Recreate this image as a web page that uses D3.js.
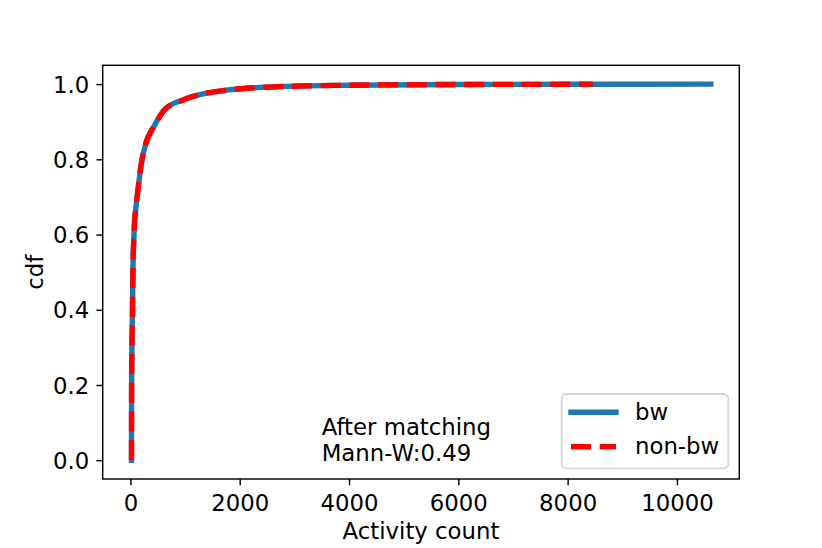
<!DOCTYPE html>
<html>
<head>
<meta charset="utf-8">
<script src="https://cdn.jsdelivr.net/npm/d3@7"></script>
<style>
  body { margin: 0; background: #fff; }
  svg { font-family: "DejaVu Sans", sans-serif; }
</style>
</head>
<body>
<div id="chart"></div>
<script>
// cdf values
var bwX    = [20, 22, 30, 37, 48, 60, 79, 100, 139, 201, 293, 414, 628, 963, 1329, 1757, 2367, 2856, 4000, 6000, 8000, 10620];
var bwY    = [0, 0.2, 0.32, 0.39, 0.52, 0.58, 0.64, 0.67, 0.72, 0.79, 0.847, 0.883, 0.932, 0.958, 0.974, 0.984, 0.991, 0.994, 0.997, 0.999, 0.9995, 1.0];
var nonbwX = [20, 22, 30, 37, 48, 60, 79, 100, 139, 201, 293, 414, 628, 963, 1329, 1757, 2367, 2856, 4000, 6000, 8000, 8460];
var nonbwY = [0, 0.2, 0.32, 0.39, 0.52, 0.58, 0.64, 0.67, 0.72, 0.79, 0.847, 0.883, 0.932, 0.958, 0.974, 0.984, 0.991, 0.994, 0.997, 0.999, 0.9995, 1.0];

var xTicks = [0, 2000, 4000, 6000, 8000, 10000];
var yTicks = [0.0, 0.2, 0.4, 0.6, 0.8, 1.0];
var seriesNames = ["bw", "non-bw"];
var noteLines = ["After matching", "Mann-W:0.49"];
var noteAt = [3500, 0];

var W = 822, H = 548;
var pLeft = 102.7, pRight = 739.3, pTop = 65.3, pBottom = 479;
var fs = 22.8;

var svg = d3.select("#chart")
            .append("svg")
            .attr("width", W)
            .attr("height", H);

var x = d3.scaleLinear().domain([-507, 11141]).range([pLeft, pRight]);
var y = d3.scaleLinear().domain([-0.05, 1.05]).range([pBottom, pTop]);

var line = d3.line()
             .x(function(d){ return x(d[0]); })
             .y(function(d){ return y(d[1]); })
             .curve(d3.curveMonotoneX);

var bw = bwX.map(function(v, i){ return [v, bwY[i]]; });
var nonbw = nonbwX.map(function(v, i){ return [v, nonbwY[i]]; });

svg.append("path")
   .attr("d", line(bw))
   .attr("fill", "none")
   .attr("stroke", "#1f77b4")
   .attr("stroke-width", 5.4)
   .attr("stroke-linecap", "square");

svg.append("path")
   .attr("d", line(nonbw))
   .attr("fill", "none")
   .attr("stroke", "#ff0000")
   .attr("stroke-width", 5.4)
   .attr("stroke-dasharray", "20 8.7");

// axes
var xAxis = svg.append("g")
   .attr("transform", "translate(0," + pBottom + ")")
   .call(d3.axisBottom(x).tickValues(xTicks).tickSize(6.3).tickSizeOuter(0).tickFormat(d3.format("d")));

var yAxis = svg.append("g")
   .attr("transform", "translate(" + pLeft + ",0)")
   .call(d3.axisLeft(y).tickValues(yTicks).tickSize(6.3).tickSizeOuter(0).tickPadding(7.2).tickFormat(d3.format(".1f")));

[xAxis, yAxis].forEach(function(g){
  g.select(".domain").remove();
  g.selectAll(".tick line").attr("stroke", "#000").attr("stroke-width", 1.44);
  g.selectAll(".tick text").attr("fill", "#000").style("font-size", fs + "px").style("font-family", "DejaVu Sans");
});
xAxis.selectAll(".tick text").attr("y", 31.7).attr("dy", 0);
yAxis.selectAll(".tick text").attr("dy", "0.36em");

// frame
svg.append("rect")
   .attr("x", pLeft)
   .attr("y", pTop)
   .attr("width", pRight - pLeft)
   .attr("height", pBottom - pTop)
   .attr("fill", "none")
   .attr("stroke", "#000")
   .attr("stroke-width", 1.44);

svg.append("text")
   .attr("x", (pLeft + pRight) / 2)
   .attr("y", 539)
   .attr("text-anchor", "middle")
   .style("font-size", fs + "px")
   .text("Activity count");

svg.append("text")
   .attr("transform", "translate(43," + ((pTop + pBottom) / 2) + ") rotate(-90)")
   .attr("text-anchor", "middle")
   .style("font-size", fs + "px")
   .text("cdf");

// note
svg.append("text")
   .attr("x", x(noteAt[0]))
   .attr("y", y(noteAt[1]) - 25.5)
   .style("font-size", fs + "px")
   .text(noteLines[0]);

svg.append("text")
   .attr("x", x(noteAt[0]))
   .attr("y", y(noteAt[1]) + 1)
   .style("font-size", fs + "px")
   .text(noteLines[1]);

// legend
var lg = svg.append("g");
lg.append("rect")
  .attr("x", 561.7)
  .attr("y", 394)
  .attr("width", 166.6)
  .attr("height", 74.3)
  .attr("rx", 4.5)
  .attr("fill", "#fff")
  .attr("fill-opacity", 0.8)
  .attr("stroke", "#cccccc")
  .attr("stroke-opacity", 0.8)
  .attr("stroke-width", 1.8);

lg.append("line")
  .attr("x1", 571).attr("x2", 616)
  .attr("y1", 412.3).attr("y2", 412.3)
  .attr("stroke", "#1f77b4")
  .attr("stroke-width", 5.4)
  .attr("stroke-linecap", "square");

lg.append("line")
  .attr("x1", 571).attr("x2", 616)
  .attr("y1", 446.7).attr("y2", 446.7)
  .attr("stroke", "#ff0000")
  .attr("stroke-width", 5.4)
  .attr("stroke-dasharray", "20 8.7");

lg.append("text")
  .attr("x", 635)
  .attr("y", 419.5)
  .style("font-size", fs + "px")
  .text(seriesNames[0]);

lg.append("text")
  .attr("x", 635)
  .attr("y", 454)
  .style("font-size", fs + "px")
  .text(seriesNames[1]);
</script>
</body>
</html>
